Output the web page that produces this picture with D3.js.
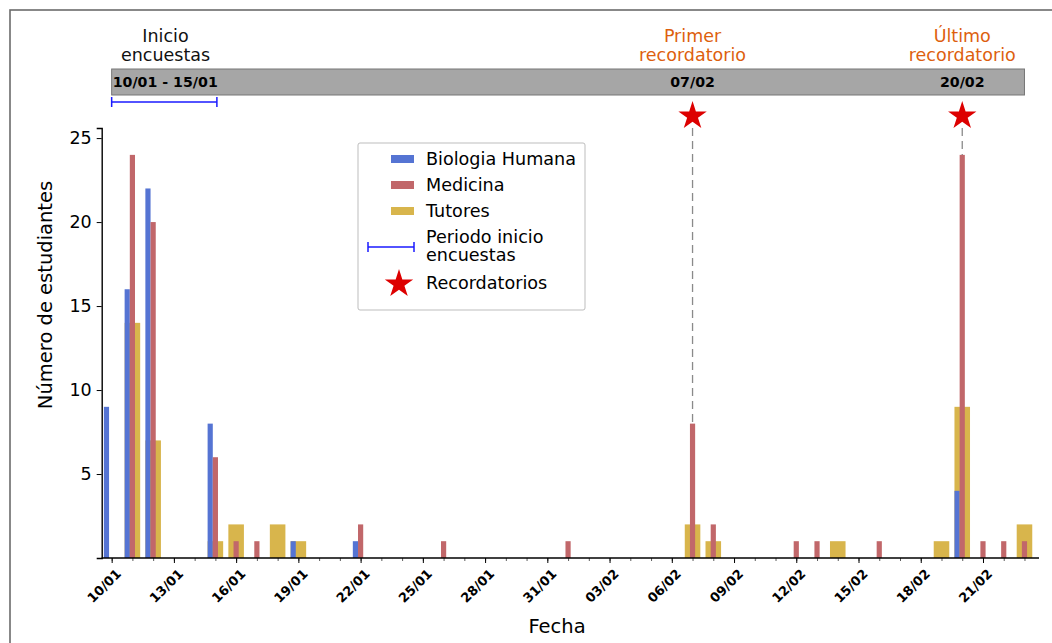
<!DOCTYPE html>
<html>
<head>
<meta charset="utf-8">
<script src="https://cdn.jsdelivr.net/npm/d3@7"></script>
<style>
  body { margin: 0; background: #fff; }
  svg { font-family: "DejaVu Sans", sans-serif; display: block; }
</style>
</head>
<body>
<div id="svg-container"></div>
<script>
// Dates are dd/mm, all in the same year
const bioDates = ["10/01", "11/01", "12/01", "15/01", "19/01", "22/01", "20/02"];
const bioValues = [9, 16, 22, 8, 1, 1, 4];

const medDates = ["11/01", "12/01", "15/01", "16/01", "17/01", "22/01", "26/01", "01/02",
  "07/02", "08/02", "12/02", "13/02", "16/02", "20/02", "21/02", "22/02", "23/02"];
const medValues = [24, 20, 6, 1, 1, 2, 1, 1, 8, 2, 1, 1, 1, 24, 1, 1, 1];

const tutDates = ["11/01", "12/01", "15/01", "16/01", "18/01", "19/01", "07/02", "08/02",
  "14/02", "19/02", "20/02", "23/02"];
const tutValues = [14, 7, 1, 2, 2, 1, 2, 1, 1, 1, 9, 2];

const tickLabels = ["10/01", "13/01", "16/01", "19/01", "22/01", "25/01", "28/01", "31/01",
  "03/02", "06/02", "09/02", "12/02", "15/02", "18/02", "21/02"];
const yTicks = [5, 10, 15, 20, 25];

const surveyPeriod = ["10/01", "15/01"];
const reminderDates = ["07/02", "20/02"];
const reminderTitles = [["Primer", "recordatorio"], ["Último", "recordatorio"]];
const timelineRange = ["10/01", "23/02"];

const seriesNames = ["Biologia Humana", "Medicina", "Tutores"];

const width = 1052;
const height = 643;
const DAY = 864e5;

function parse(s) {
  const [d, m] = s.split("/").map(Number);
  return new Date(Date.UTC(2024, m - 1, d));
}

const svg = d3.select('#svg-container')
  .append('svg')
  .attr('width', width)
  .attr('height', height);

// figure frame (right/bottom edges fall outside the window)
svg.append('rect')
  .attr('x', 10).attr('y', 10)
  .attr('width', 1060).attr('height', 660)
  .attr('fill', 'none')
  .attr('stroke', '#6b6b6b')
  .attr('stroke-width', 1.6);

const x = d3.scaleUtc()
  .domain([new Date(parse("10/01") - 0.48 * DAY), new Date(+parse("23/02") + 0.7 * DAY)])
  .range([101.7, 1039]);

const y = d3.scaleLinear()
  .domain([0, 25.6])
  .range([558, 128]);

const dayW = x(new Date(DAY * 1 + +parse("10/01"))) - x(parse("10/01"));

const colors = { bio: '#5574d3', med: '#c1676a', tut: '#d8b54c' };

// dashed reminder lines (behind the bars)
svg.selectAll('line.reminder')
  .data(reminderDates)
  .join('line')
  .attr('class', 'reminder')
  .attr('x1', d => x(parse(d))).attr('x2', d => x(parse(d)))
  .attr('y1', 128).attr('y2', y(0))
  .attr('stroke', '#8a8a8a')
  .attr('stroke-width', 1.3)
  .attr('stroke-dasharray', '8,5');

// Tutores: wide bars across the three slots, drawn first
svg.selectAll('rect.tut')
  .data(d3.zip(tutDates, tutValues))
  .join('rect')
  .attr('class', 'tut')
  .attr('x', d => x(parse(d[0])) - 0.375 * dayW)
  .attr('width', 0.75 * dayW)
  .attr('y', d => y(d[1]))
  .attr('height', d => y(0) - y(d[1]))
  .attr('fill', colors.tut);

// Biologia Humana: narrow, left of the day
svg.selectAll('rect.bio')
  .data(d3.zip(bioDates, bioValues))
  .join('rect')
  .attr('class', 'bio')
  .attr('x', d => x(parse(d[0])) - 0.375 * dayW)
  .attr('width', 0.25 * dayW)
  .attr('y', d => y(d[1]))
  .attr('height', d => y(0) - y(d[1]))
  .attr('fill', colors.bio);

// Medicina: narrow, centred on the day
svg.selectAll('rect.med')
  .data(d3.zip(medDates, medValues))
  .join('rect')
  .attr('class', 'med')
  .attr('x', d => x(parse(d[0])) - 0.125 * dayW)
  .attr('width', 0.25 * dayW)
  .attr('y', d => y(d[1]))
  .attr('height', d => y(0) - y(d[1]))
  .attr('fill', colors.med);

// x axis: minor ticks every day, labelled ticks every 3 days
const allDays = d3.utcDay.range(parse("10/01"), new Date(+parse("23/02") + DAY));
const xAxisG = svg.append('g').attr('transform', `translate(0,${y(0)})`);
xAxisG.call(d3.axisBottom(x).tickValues(allDays).tickSize(3).tickFormat(''))
  .call(g => g.select('.domain').remove())
  .call(g => g.selectAll('line').attr('stroke', '#333').attr('stroke-width', 0.8));
xAxisG.append('g')
  .call(d3.axisBottom(x).tickValues(tickLabels.map(parse)).tickSize(5)
    .tickFormat(d3.utcFormat('%d/%m')))
  .call(g => g.select('.domain').remove())
  .call(g => g.selectAll('line').attr('stroke', '#000').attr('stroke-width', 1))
  .call(g => g.selectAll('text')
    .attr('font-family', '"DejaVu Sans", sans-serif')
    .attr('font-size', 13)
    .attr('font-weight', 'bold')
    .attr('fill', '#000')
    .attr('text-anchor', 'end')
    .attr('dx', 0).attr('dy', 0)
    .attr('transform', 'translate(4,11) rotate(-45)'));
xAxisG.append('line')
  .attr('x1', 101.7).attr('x2', 1039)
  .attr('stroke', '#000').attr('stroke-width', 1.4);

// y axis
const yAxisG = svg.append('g').attr('transform', 'translate(101.7,0)');
yAxisG.call(d3.axisLeft(y).tickValues(yTicks).tickSize(5))
  .call(g => g.select('.domain').attr('stroke-width', 1.4))
  .call(g => g.selectAll('text')
    .attr('font-family', '"DejaVu Sans", sans-serif')
    .attr('font-size', 17.5)
    .attr('fill', '#000')
    .attr('dx', -2));

// axis titles
svg.append('text')
  .attr('x', 557).attr('y', 633)
  .attr('text-anchor', 'middle')
  .attr('font-size', 19.5)
  .text('Fecha');
svg.append('text')
  .attr('transform', 'translate(52,295) rotate(-90)')
  .attr('text-anchor', 'middle')
  .attr('font-size', 19.5)
  .text('Número de estudiantes');

// timeline strip on top
svg.append('rect')
  .attr('x', x(parse(timelineRange[0])))
  .attr('width', x(parse(timelineRange[1])) - x(parse(timelineRange[0])))
  .attr('y', 69).attr('height', 26)
  .attr('fill', '#a6a6a6')
  .attr('stroke', '#777')
  .attr('stroke-width', 1);

svg.append('text')
  .attr('x', x(parse(surveyPeriod[0])) + 1).attr('y', 87)
  .attr('font-size', 14.2).attr('font-weight', 'bold')
  .text(surveyPeriod.join(' - '));

svg.selectAll('text.remdate')
  .data(reminderDates)
  .join('text')
  .attr('class', 'remdate')
  .attr('x', d => x(parse(d))).attr('y', 87)
  .attr('text-anchor', 'middle')
  .attr('font-size', 14.2).attr('font-weight', 'bold')
  .text(d => d);

// titles above the strip
const startTitle = svg.append('text')
  .attr('text-anchor', 'middle')
  .attr('font-size', 17.5)
  .attr('fill', '#111');
['Inicio', 'encuestas'].forEach((t, i) => {
  startTitle.append('tspan')
    .attr('x', (x(parse(surveyPeriod[0])) + x(parse(surveyPeriod[1]))) / 2 + 2)
    .attr('y', 42 + i * 19)
    .text(t);
});

svg.selectAll('text.remtitle')
  .data(d3.zip(reminderDates, reminderTitles))
  .join('text')
  .attr('class', 'remtitle')
  .attr('text-anchor', 'middle')
  .attr('font-size', 17.5)
  .attr('fill', '#dd5f0e')
  .each(function(d) {
    d[1].forEach((t, i) => {
      d3.select(this).append('tspan')
        .attr('x', x(parse(d[0])))
        .attr('y', 42 + i * 19)
        .text(t);
    });
  });

// survey period bracket
const bx0 = x(parse(surveyPeriod[0])), bx1 = x(parse(surveyPeriod[1])) + 1.5;
const bracket = svg.append('g').attr('stroke', '#1a1aff').attr('stroke-width', 1.5);
bracket.append('line').attr('x1', bx0).attr('x2', bx1).attr('y1', 102).attr('y2', 102);
bracket.append('line').attr('x1', bx0).attr('x2', bx0).attr('y1', 97).attr('y2', 107);
bracket.append('line').attr('x1', bx1).attr('x2', bx1).attr('y1', 97).attr('y2', 107);

// reminder stars
const star = d3.symbol().type(d3.symbolStar).size(250);
svg.selectAll('path.star')
  .data(reminderDates)
  .join('path')
  .attr('class', 'star')
  .attr('d', star)
  .attr('transform', d => `translate(${x(parse(d))},116)`)
  .attr('fill', '#dd0000');

// legend
const legend = svg.append('g').attr('transform', 'translate(358,143)');
legend.append('rect')
  .attr('width', 227).attr('height', 167)
  .attr('rx', 2)
  .attr('fill', '#fff')
  .attr('stroke', '#bdbdbd')
  .attr('stroke-width', 1);

const legendColors = [colors.bio, colors.med, colors.tut];
seriesNames.forEach((name, i) => {
  const ly = 16 + i * 26;
  legend.append('rect')
    .attr('x', 33).attr('y', ly - 4).attr('width', 23).attr('height', 8)
    .attr('fill', legendColors[i]);
  legend.append('text')
    .attr('x', 68).attr('y', ly + 6)
    .attr('font-size', 17.6)
    .text(name);
});

const lg = legend.append('g').attr('stroke', '#1a1aff').attr('stroke-width', 1.5);
lg.append('line').attr('x1', 10).attr('x2', 56).attr('y1', 104).attr('y2', 104);
lg.append('line').attr('x1', 10).attr('x2', 10).attr('y1', 99).attr('y2', 109);
lg.append('line').attr('x1', 56).attr('x2', 56).attr('y1', 99).attr('y2', 109);
const pText = legend.append('text').attr('font-size', 17.6);
['Periodo inicio', 'encuestas'].forEach((t, i) => {
  pText.append('tspan').attr('x', 68).attr('y', 100 + i * 18).text(t);
});

legend.append('path')
  .attr('d', star)
  .attr('transform', 'translate(41,141)')
  .attr('fill', '#dd0000');
legend.append('text')
  .attr('x', 68).attr('y', 146)
  .attr('font-size', 17.6)
  .text('Recordatorios');
</script>
</body>
</html>
